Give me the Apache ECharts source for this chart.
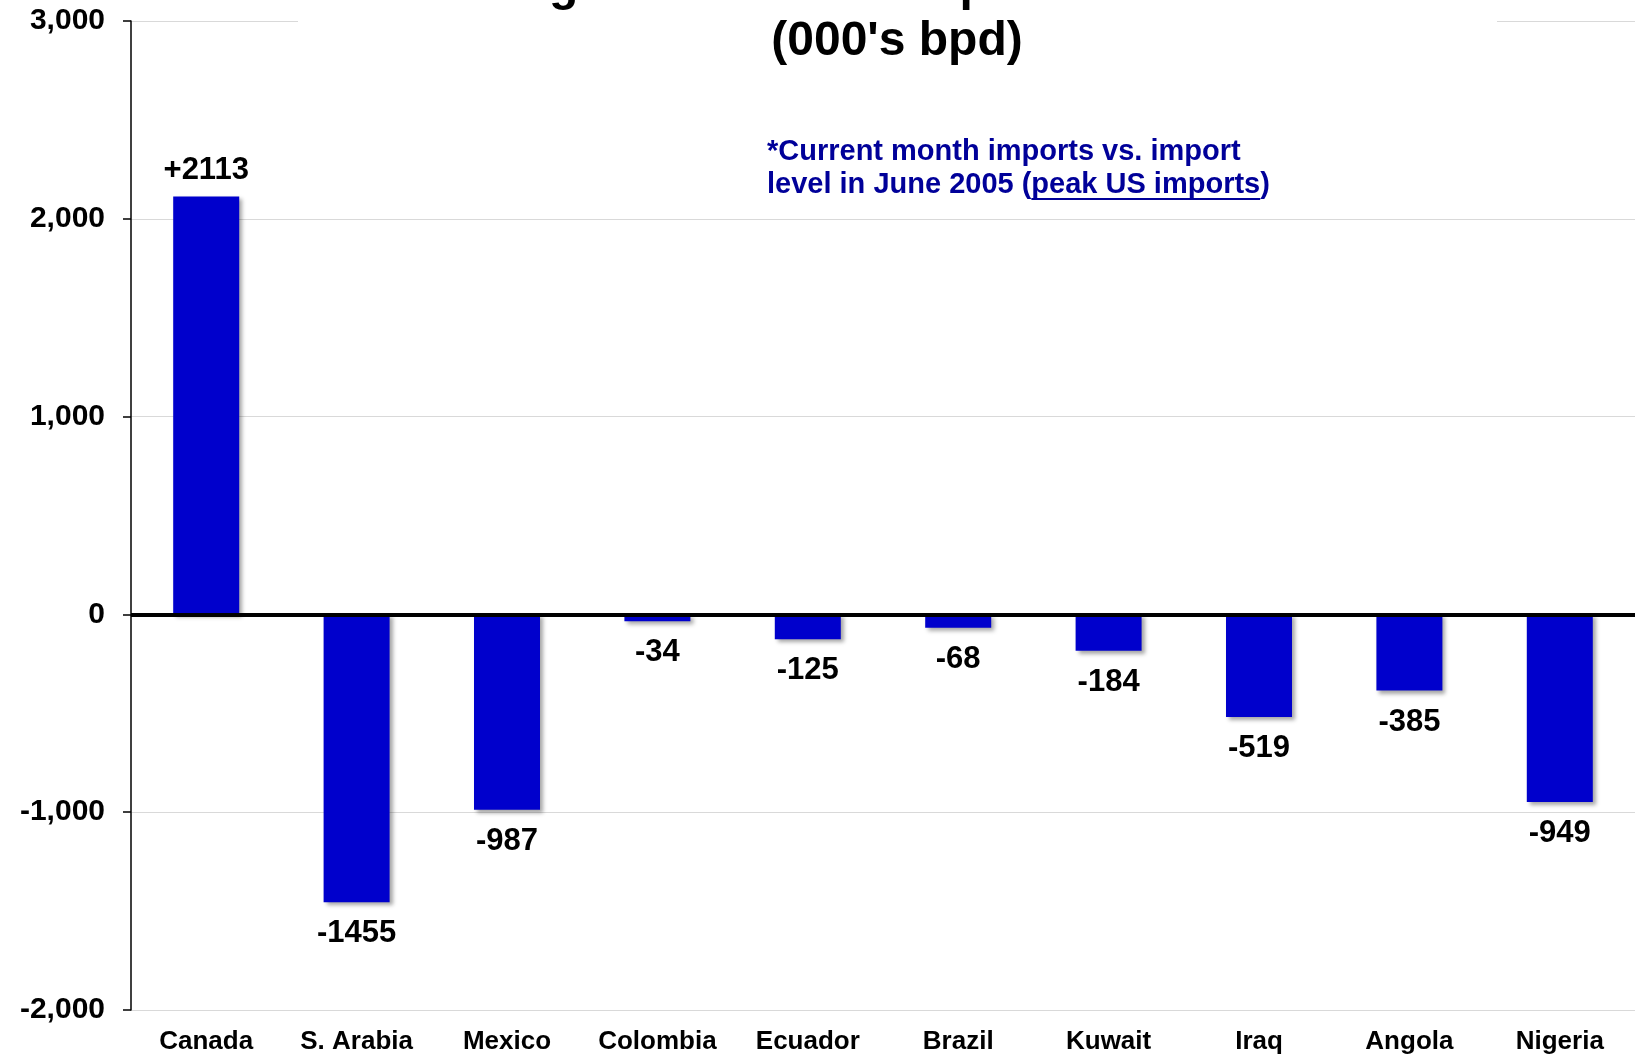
<!DOCTYPE html>
<html>
<head>
<meta charset="utf-8">
<script src="https://cdn.jsdelivr.net/npm/echarts@6/dist/echarts.min.js"></script>
<style>
html,body{margin:0;padding:0;background:#fff;}
#chart{width:1635px;height:1055px;}
</style>
</head>
<body>
<div id="chart"></div>
<script>
const categories = ['Canada','S. Arabia','Mexico','Colombia','Ecuador','Brazil','Kuwait','Iraq','Angola','Nigeria'];
const changes = [2113,-1455,-987,-34,-125,-68,-184,-519,-385,-949];
const yTicks = [-2000,-1000,0,1000,2000,3000];
const titleLines = ["Change in Crude Oil Imports Since Peak*", "(000's bpd)"];
const noteLine1 = '*Current month imports vs. import';
const noteLine2a = 'level in June 2005 (';
const noteLine2b = 'peak US imports';
const noteLine2c = ')';

const FONT = '"Liberation Sans", Arial, sans-serif';
const NOTE_FONT = 'bold 29px ' + FONT;
const chart = echarts.init(document.getElementById('chart'));

const ctx = document.createElement('canvas').getContext('2d');
ctx.font = NOTE_FONT;
const noteX = 767;
const ux = noteX + ctx.measureText(noteLine2a).width;
const uw = ctx.measureText(noteLine2b).width;

chart.setOption({
  animation: false,
  backgroundColor: '#fff',
  grid: {left: 131, right: 0, top: 21, bottom: 45, containLabel: false},
  xAxis: {
    type: 'category',
    data: categories,
    axisLine: {show: false, onZero: false},
    axisTick: {show: false},
    axisLabel: {interval: 0, color: '#000', fontFamily: FONT, fontWeight: 'bold', fontSize: 26, margin: 19}
  },
  yAxis: {
    type: 'value',
    min: yTicks[0],
    max: yTicks[yTicks.length-1],
    interval: 1000,
    axisLine: {show: true, lineStyle: {color: '#000', width: 1.5}},
    axisTick: {show: true, length: 8, lineStyle: {color: '#000', width: 1.5}},
    splitLine: {show: true, lineStyle: {color: '#d9d9d9', width: 1}},
    axisLabel: {
      color: '#000', fontFamily: FONT, fontWeight: 'bold', fontSize: 30, margin: 26,
      formatter: v => v.toLocaleString('en-US')
    }
  },
  series: [{
    type: 'bar',
    data: changes.map(v => ({
      value: v,
      label: {position: v >= 0 ? 'top' : 'bottom', distance: v >= 0 ? 10 : 16}
    })),
    barWidth: 66,
    itemStyle: {
      color: '#0000CC',
      shadowColor: 'rgba(0,0,0,0.35)', shadowBlur: 4, shadowOffsetX: 3, shadowOffsetY: 3
    },
    label: {
      show: true,
      color: '#000', fontFamily: FONT, fontWeight: 'bold', fontSize: 31,
      formatter: p => (p.value > 0 ? '+' : '') + p.value
    },
    markLine: {
      silent: true,
      symbol: ['none','none'],
      label: {show: false},
      lineStyle: {color: '#000', width: 4, type: 'solid'},
      data: [{yAxis: 0}],
      z: 5
    }
  }],
  graphic: [
    {type: 'rect', z: 20, shape: {x: 298, y: 0, width: 1199, height: 64}, style: {fill: '#fff'}},
    {type: 'text', z: 21, x: 897, y: -41,
      style: {text: titleLines.join('\n'), textAlign: 'center', textVerticalAlign: 'top',
        font: 'bold 48px ' + FONT, lineHeight: 55, fill: '#000'}},
    {type: 'text', z: 21, x: noteX, y: 135,
      style: {
        text: noteLine1 + '\n' + noteLine2a + noteLine2b + noteLine2c,
        fill: '#000099', font: NOTE_FONT, lineHeight: 33
      }},
    {type: 'line', z: 21, shape: {x1: ux, y1: 199, x2: ux + uw, y2: 199}, style: {stroke: '#000099', lineWidth: 2}}
  ]
});
</script>
</body>
</html>
